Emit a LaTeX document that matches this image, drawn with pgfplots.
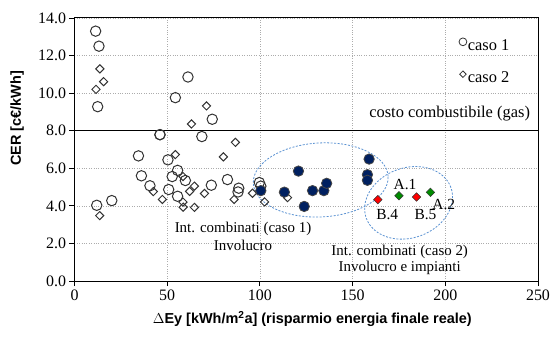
\documentclass[border=0pt]{standalone}
\usepackage{pgfplots}
\pgfplotsset{compat=1.18}
\usepackage{fontspec}
\setmainfont{Liberation Serif}
\setsansfont{Liberation Sans}
\definecolor{navyfill}{RGB}{0,32,96}
\definecolor{ellblue}{RGB}{91,146,210}
\definecolor{mkgray}{RGB}{50,50,50}
\definecolor{grn}{RGB}{0,140,0}
\begin{document}
\begin{tikzpicture}
\path[use as bounding box] (-74.5bp,-57bp) rectangle (477.5bp,281bp);
\begin{axis}[
  scale only axis, width=463.5bp, height=263bp,
  at={(0,0)}, anchor=south west,
  xmin=0, xmax=250, ymin=0, ymax=14,
  xtick={0,50,100,150,200,250}, ytick={0,2,4,6,8,10,12,14},
  grid=major, grid style={gray!65, dotted, line width=0.6bp},
  axis line style={black, line width=1bp},
  tick align=outside, major tick length=5bp, tick style={black, line width=0.9bp},
  xtick pos=bottom, ytick pos=left,
  /pgf/number format/assume math mode=true,
  yticklabel style={/pgf/number format/.cd, fixed, fixed zerofill, precision=1},
  ticklabel style={font=\fontsize{16}{19}\selectfont},
  xlabel={$\Delta$Ey [kWh/m\textsuperscript{2}a] (risparmio energia finale reale)},
  ylabel={CER [c€/kWh]},
  label style={font=\sffamily\bfseries\fontsize{14.5}{17}\selectfont},
  xlabel style={at={(axis description cs:0.513,-0.1445)}, anchor=center},
  ylabel style={at={(axis description cs:-0.124,0.618)}, anchor=center},
  clip=false,
  legend style={at={(axis cs:207.3,12.95)}, anchor=north west, draw=none, fill=none,
    font=\fontsize{16.5}{19}\selectfont, row sep=18bp, inner sep=0pt,
    nodes={inner sep=1bp}},
  legend cell align=left,
  legend image code/.code={\draw[#1, line width=0.8bp] plot coordinates {(0.12cm,0.14cm)};},
]
% fuel cost line
\addplot[black, line width=1bp, forget plot] coordinates {(0,8) (250,8)};
% caso 1
\addplot[only marks, mark=o, mark size=5.2bp, draw=mkgray, line width=1bp,
  legend image post style={mark size=3.9bp}] coordinates {
(11.4,13.3) (13.2,12.5) (12.5,9.28) (61.2,10.86) (54.4,9.76) (74.3,8.61) (68.7,7.69)
(46.1,7.79) (46.1,7.79) (34.5,6.66) (50.4,6.45) (36.1,5.6) (40.7,5.07) (12.0,4.03)
(20.1,4.28) (52.7,5.56) (55.6,5.89) (59.8,5.35) (50.8,4.87) (55.6,4.51) (73.8,5.1)
(82.5,5.4) (88.6,4.94) (88.2,4.74) (99.7,5.24) (100.5,5.05)};
% caso 2
\addplot[only marks, mark=square, mark options={rotate=45}, mark size=2.9bp, draw=mkgray, line width=1bp,
  legend image post style={mark size=2.3bp}] coordinates {
(13.7,11.29) (15.7,10.61) (11.6,10.2) (63.1,8.36) (71.2,9.32) (54.4,6.73) (80.3,6.61)
(86.8,7.38) (13.6,3.48) (42.5,4.76) (47.4,4.34) (58.5,4.2) (58.6,3.93) (64.7,3.92)
(62.1,4.77) (64.7,5.05) (70.1,4.66) (86.1,4.34) (96.0,4.67) (102.5,4.21) (114.9,4.44)
(58.5,5.56)};
\legend{caso 1, caso 2}
% interventi combinati caso 1
\addplot[only marks, mark=*, mark size=5.2bp, fill=navyfill, draw=gray!55!black, line width=0.8bp, forget plot] coordinates {
(100.5,4.81) (113.2,4.73) (120.8,5.85) (123.9,3.97) (128.4,4.81) (134.5,4.81)
(136.0,5.2) (158.9,6.49) (158.0,5.66) (158.0,5.36)};
% red (B.4, B.5)
\addplot[only marks, mark=square*, mark options={rotate=45}, mark size=3.0bp, fill=red, draw=gray!40!black, line width=0.5bp, forget plot] coordinates {
(163.6,4.33) (184.5,4.47)};
% green (A.1, A.2)
\addplot[only marks, mark=square*, mark options={rotate=45}, mark size=3.0bp, fill=grn, draw=gray!40!black, line width=0.5bp, forget plot] coordinates {
(175.0,4.54) (192.0,4.72)};
% ellipses
\draw[ellblue, dash pattern=on 2bp off 1.5bp, line width=0.8bp, shift={(axis cs:132.8,5.38)}, rotate=3] (0,0) ellipse [x radius=67.5bp, y radius=37bp];
\draw[ellblue, dash pattern=on 2bp off 1.5bp, line width=0.8bp, shift={(axis cs:180.2,4.16)}, rotate=20] (0,0) ellipse [x radius=45bp, y radius=35bp];
% texts
\node[anchor=east, font=\fontsize{16.5}{19}\selectfont, inner sep=0pt] at (axis cs:245.8,8.93) {costo combustibile (gas)};
\node[font=\fontsize{15.5}{18}\selectfont, inner sep=0pt] at (axis cs:178.3,5.12) {A.1};
\node[font=\fontsize{15.5}{18}\selectfont, inner sep=0pt] at (axis cs:199.2,4.05) {A.2};
\node[font=\fontsize{15.5}{18}\selectfont, inner sep=0pt] at (axis cs:168.7,3.52) {B.4};
\node[font=\fontsize{15.5}{18}\selectfont, inner sep=0pt] at (axis cs:189.3,3.52) {B.5};
\node[font=\fontsize{15}{18}\selectfont, inner sep=0pt] at (axis cs:90.9,2.78) {Int. combinati (caso 1)};
\node[font=\fontsize{15}{18}\selectfont, inner sep=0pt] at (axis cs:90.9,1.89) {Involucro};
\node[font=\fontsize{15}{18}\selectfont, inner sep=0pt] at (axis cs:175.4,1.57) {Int. combinati (caso 2)};
\node[font=\fontsize{15}{18}\selectfont, inner sep=0pt] at (axis cs:175.4,0.69) {Involucro e impianti};
\end{axis}
\end{tikzpicture}
\end{document}
